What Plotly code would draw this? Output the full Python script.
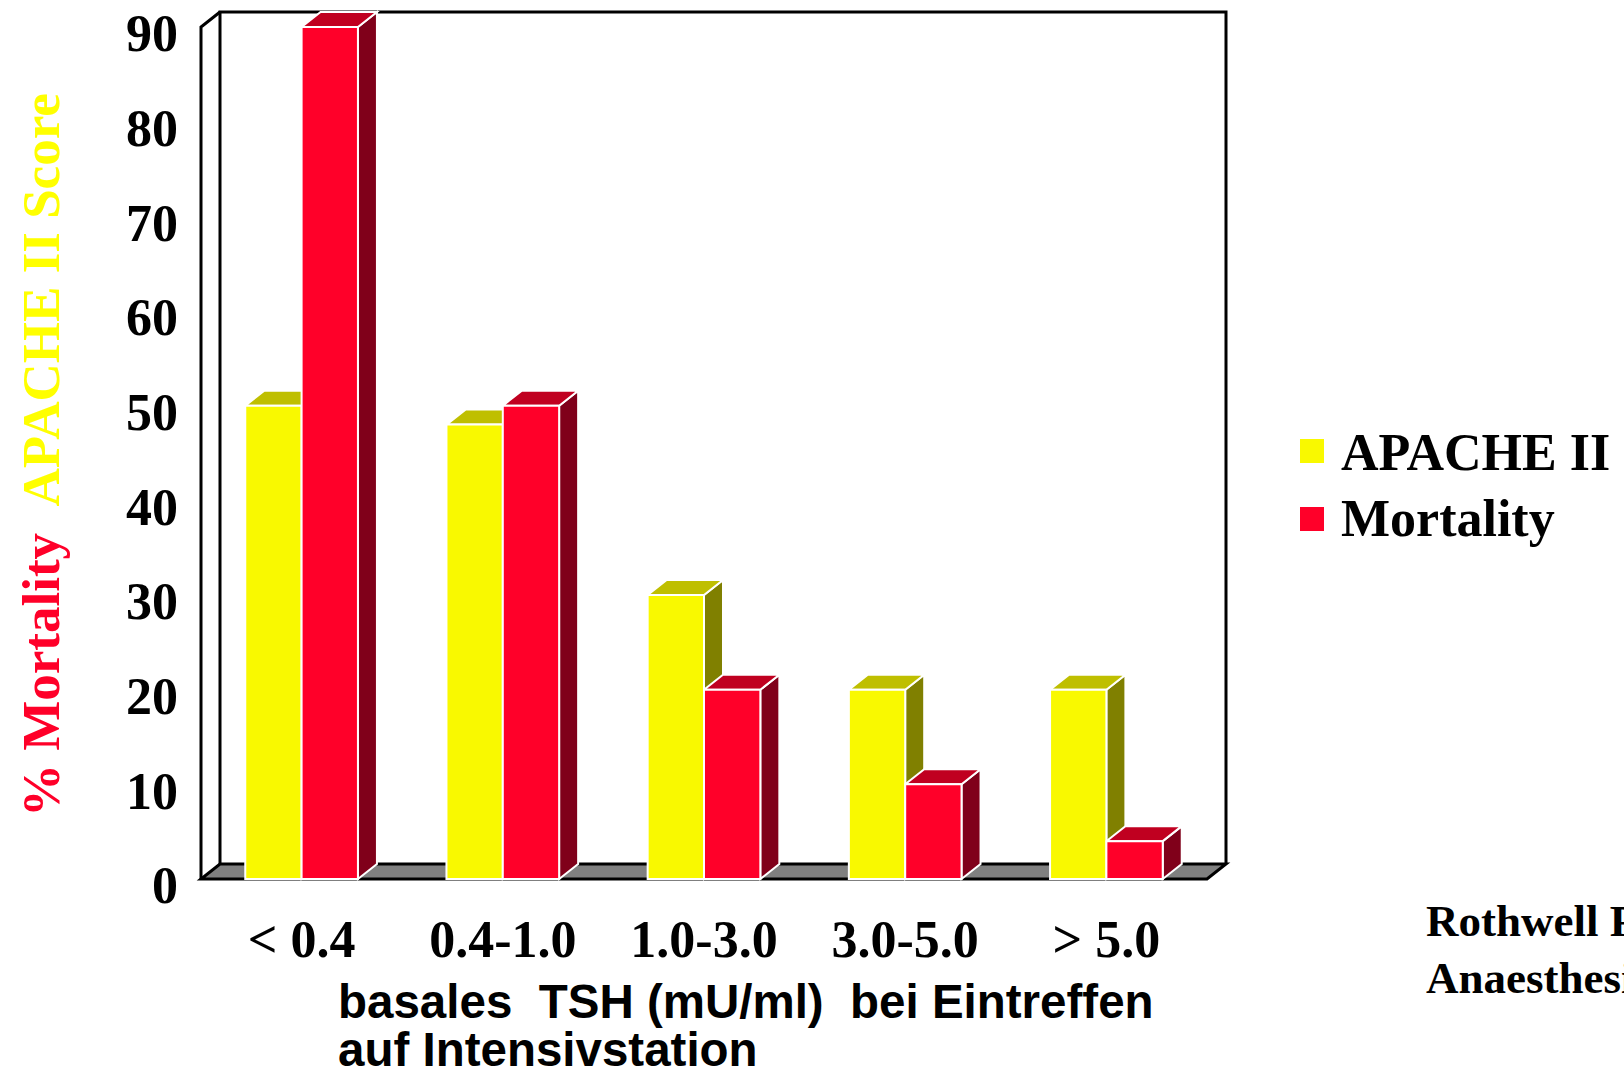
import plotly.graph_objects as go

# --- data -----------------------------------------------------------------
categories = ["< 0.4", "0.4-1.0", "1.0-3.0", "3.0-5.0", "> 5.0"]
apache_ii = [50, 48, 30, 20, 20]
mortality = [90, 50, 20, 10, 4]
y_ticks = [0, 10, 20, 30, 40, 50, 60, 70, 80, 90]
series_names = ["APACHE II", "Mortality"]

# --- page geometry (pixels) ----------------------------------------------
W, H = 1624, 1077
L, R, T, B = 195, 1232, 6, 886          # plot area
FRONT_X0 = 201                           # left edge of the front plane
PITCH = 201.2                            # pixels per category
ZERO_Y = 879                             # pixel row of value 0 on the front plane
PPU = 852 / 90                           # pixels per value unit
Y_TOP = 90                               # height of the box walls

x_range = [-0.5 - (FRONT_X0 - L) / PITCH, -0.5 + (R - FRONT_X0) / PITCH]
y_range = [-(B - ZERO_Y) / PPU, (ZERO_Y - T) / PPU]

# depth of the 3-D extrusion, converted to axis units
DX = 19 / PITCH
DY = 15 / PPU

BAR_W = 0.28
SERIF = "Liberation Serif"
SANS = "Liberation Sans"

styles = {
    "APACHE II": dict(front="#F9F900", top="#BFBF00", side="#808000", offset=-BAR_W),
    "Mortality": dict(front="#FF0029", top="#C00020", side="#80001A", offset=0.0),
}


def px_x(px):
    return (px - L) / (R - L)


def px_y(py):
    return (B - py) / (B - T)


def path(points, close=True):
    s = "M " + " L ".join(f"{x:.5f},{y:.5f}" for x, y in points)
    return s + (" Z" if close else "")


shapes = []
xl_box, xr_box = -0.5, len(categories) - 0.5

# back wall (left-back edge, top edge, right edge)
shapes.append(dict(
    type="path", xref="x", yref="y", layer="below",
    path=path([(xl_box + DX, DY), (xl_box + DX, Y_TOP + DY),
               (xr_box + DX, Y_TOP + DY), (xr_box + DX, DY)], close=False),
    line=dict(color="black", width=3),
))
# left wall front edge and its top bevel
shapes.append(dict(
    type="path", xref="x", yref="y", layer="below",
    path=path([(xl_box, 0), (xl_box, Y_TOP), (xl_box + DX, Y_TOP + DY)], close=False),
    line=dict(color="black", width=3),
))
# floor
shapes.append(dict(
    type="path", xref="x", yref="y", layer="below",
    path=path([(xl_box, 0), (xr_box, 0), (xr_box + DX, DY), (xl_box + DX, DY)]),
    fillcolor="#808080", line=dict(color="black", width=3),
))

series_values = {"APACHE II": apache_ii, "Mortality": mortality}

# top and side faces of every bar, drawn group by group
for i in range(len(categories)):
    for name in series_names:
        st = styles[name]
        v = series_values[name][i]
        x0 = i + st["offset"]
        x1 = x0 + BAR_W
        shapes.append(dict(
            type="path", xref="x", yref="y", layer="below",
            path=path([(x1, 0), (x1 + DX, DY), (x1 + DX, v + DY), (x1, v)]),
            fillcolor=st["side"], line=dict(color="white", width=2),
        ))
        shapes.append(dict(
            type="path", xref="x", yref="y", layer="below",
            path=path([(x0, v), (x1, v), (x1 + DX, v + DY), (x0 + DX, v + DY)]),
            fillcolor=st["top"], line=dict(color="white", width=2),
        ))

# legend swatches
for k, name in enumerate(series_names):
    top_px = 439 + k * 68
    shapes.append(dict(
        type="rect", xref="paper", yref="paper",
        x0=px_x(1300), x1=px_x(1324), y0=px_y(top_px + 24), y1=px_y(top_px),
        fillcolor=styles[name]["front"], line=dict(width=0),
    ))

fig = go.Figure()
for name in series_names:
    st = styles[name]
    fig.add_trace(go.Bar(
        name=name,
        x=list(range(len(categories))),
        y=series_values[name],
        offset=st["offset"],
        width=BAR_W,
        marker=dict(color=st["front"], line=dict(color="white", width=2)),
        showlegend=False,
    ))

annotations = []
# legend labels
for k, name in enumerate(series_names):
    annotations.append(dict(
        xref="paper", yref="paper", x=px_x(1339), y=px_y(452 + k * 66),
        xanchor="left", yanchor="middle", showarrow=False, text=name,
        font=dict(family=SERIF, size=52, color="black", weight="bold"),
    ))

# value axis title in two colours
annotations.append(dict(
    xref="paper", yref="paper", x=px_x(41), y=px_y(455),
    xanchor="center", yanchor="middle", showarrow=False, textangle=-90,
    text=('<span style="color:#FF0029">%\u00a0Mortality</span>\u00a0\u00a0'
          '<span style="color:#FFFF00">APACHE\u00a0II\u00a0Score</span>'),
    font=dict(family=SERIF, size=53, weight="bold"),
))

# category axis title
for text, cy in [("basales\u00a0\u00a0TSH (mU/ml)\u00a0\u00a0bei Eintreffen", 1001),
                 ("auf Intensivstation", 1049)]:
    annotations.append(dict(
        xref="paper", yref="paper", x=px_x(336), y=px_y(cy),
        xanchor="left", yanchor="middle", showarrow=False, text=text,
        font=dict(family=SANS, size=47.5, color="black", weight="bold"),
    ))

# source
for text, cy in [("Rothwell PT", 921), ("Anaesthesia", 978)]:
    annotations.append(dict(
        xref="paper", yref="paper", x=px_x(1424), y=px_y(cy),
        xanchor="left", yanchor="middle", showarrow=False, text=text,
        font=dict(family=SERIF, size=45, color="black", weight="bold"),
    ))

fig.update_layout(
    width=W, height=H,
    margin=dict(l=L, r=W - R, t=T, b=H - B, pad=0),
    paper_bgcolor="white", plot_bgcolor="white",
    barmode="overlay",
    showlegend=False,
    shapes=shapes,
    annotations=annotations,
    xaxis=dict(
        range=x_range, tickmode="array",
        tickvals=list(range(len(categories))), ticktext=categories,
        tickfont=dict(family=SERIF, size=52, color="black", weight="bold"),
        showgrid=False, zeroline=False, showline=False, ticks="",
        ticklabelstandoff=18,
    ),
    yaxis=dict(
        range=y_range, tickmode="array", tickvals=y_ticks,
        tickfont=dict(family=SERIF, size=52, color="black", weight="bold"),
        showgrid=False, zeroline=False, showline=False, ticks="",
        ticklabelstandoff=16, ticklabelshift=6,
        ticklabeloverflow="allow",
    ),
)

fig.write_html("out.html", config={"displayModeBar": False})
